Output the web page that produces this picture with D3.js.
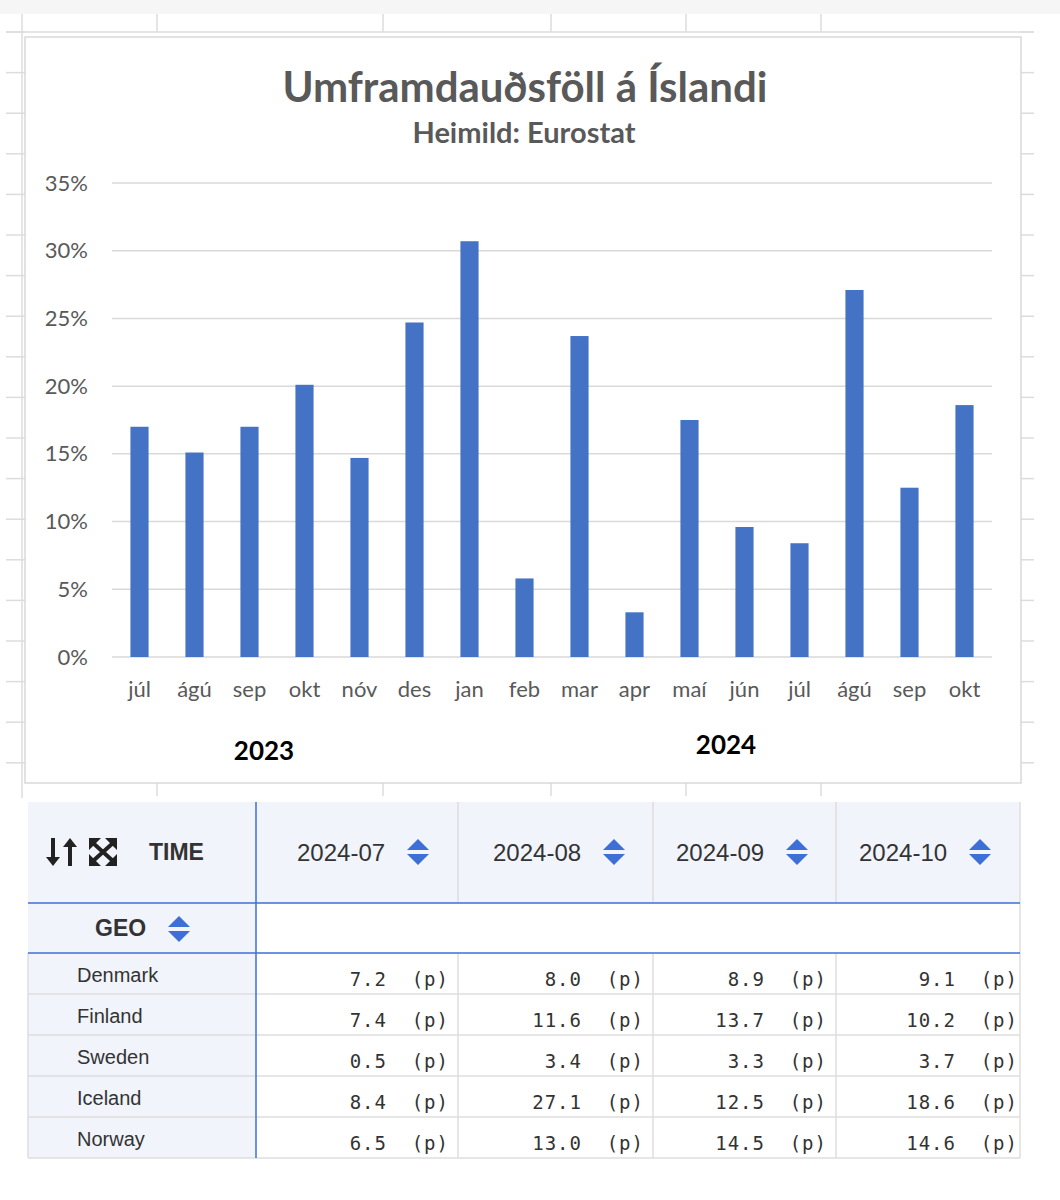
<!DOCTYPE html>
<html>
<head>
<meta charset="utf-8">
<script src="https://cdn.jsdelivr.net/npm/d3@7"></script>
<style>
  body { margin: 0; background: #fff; }
  svg text { font-family: Lato, "Open Sans", sans-serif; }
  .tbl text { font-family: "Liberation Sans", Arial, sans-serif; fill: #333; }
  .tbl text.num { font-family: "DejaVu Sans Mono", monospace; }
</style>
</head>
<body>
<div id="chart"></div>
<script>
// Chart data: excess mortality in Iceland, per month (percent)
const months = ['júl', 'ágú', 'sep', 'okt', 'nóv', 'des', 'jan', 'feb', 'mar', 'apr', 'maí', 'jún', 'júl', 'ágú', 'sep', 'okt'];
const excess = [17.0, 15.1, 17.0, 20.1, 14.7, 24.7, 30.7, 5.8, 23.7, 3.3, 17.5, 9.6, 8.4, 27.1, 12.5, 18.6];
const years = ['2023', '2024'];
const yTicks = [0, 5, 10, 15, 20, 25, 30, 35];

// Eurostat table below the chart
const periods = ['2024-07', '2024-08', '2024-09', '2024-10'];
const countries = ['Denmark', 'Finland', 'Sweden', 'Iceland', 'Norway'];
const denmark = [7.2, 8.0, 8.9, 9.1];
const finland = [7.4, 11.6, 13.7, 10.2];
const sweden = [0.5, 3.4, 3.3, 3.7];
const iceland = [8.4, 27.1, 12.5, 18.6];
const norway = [6.5, 13.0, 14.5, 14.6];
const tableRows = [denmark, finland, sweden, iceland, norway];

const width = 1060, height = 1200;
const svg = d3.select('#chart').append('svg')
    .attr('width', width)
    .attr('height', height);

// Spreadsheet grid in the background
svg.append('rect').attr('x', 0).attr('y', 0).attr('width', width).attr('height', 14).attr('fill', '#f6f6f6');
const grid = svg.append('g').attr('stroke', '#dcdcdc').attr('stroke-width', 1.5);
d3.range(32, 800, 40.6).forEach(y => {
    grid.append('line').attr('x1', 6).attr('x2', 25).attr('y1', y).attr('y2', y);
    grid.append('line').attr('x1', 1021).attr('x2', 1034).attr('y1', y).attr('y2', y);
});
grid.append('line').attr('x1', 6).attr('x2', 1034).attr('y1', 32).attr('y2', 32);
grid.append('line').attr('x1', 22).attr('x2', 22).attr('y1', 14).attr('y2', 798);
[157, 383, 551, 686, 821].forEach(x => {
    grid.append('line').attr('x1', x).attr('x2', x).attr('y1', 14).attr('y2', 32);
    grid.append('line').attr('x1', x).attr('x2', x).attr('y1', 783).attr('y2', 796);
});

// Chart box
svg.append('rect')
    .attr('x', 25).attr('y', 37).attr('width', 996).attr('height', 746)
    .attr('fill', '#fff').attr('stroke', '#d9d9d9').attr('stroke-width', 1.5);

// Title
svg.append('text').attr('x', 525).attr('y', 102)
    .attr('text-anchor', 'middle').attr('fill', '#595959')
    .style('font-size', '42px').style('font-weight', 'bold')
    .text('Umframdauðsföll á Íslandi');
svg.append('text').attr('x', 524).attr('y', 143)
    .attr('text-anchor', 'middle').attr('fill', '#595959')
    .style('font-size', '29px').style('font-weight', 'bold')
    .text('Heimild: Eurostat');

// Scales
const x = d3.scaleBand()
    .domain(d3.range(months.length))
    .range([112, 992])
    .paddingInner(0.67)
    .paddingOuter(0.335);
const y = d3.scaleLinear().domain([0, 35]).range([657, 183]);

// Gridlines
svg.append('g').selectAll('line')
    .data(yTicks)
    .join('line')
    .attr('x1', 112).attr('x2', 992)
    .attr('y1', d => y(d)).attr('y2', d => y(d))
    .attr('stroke', '#d9d9d9').attr('stroke-width', 1.5);

// Y axis labels
const yAxis = svg.append('g')
    .attr('transform', 'translate(96,0)')
    .call(d3.axisLeft(y).tickValues(yTicks).tickSize(0).tickPadding(8).tickFormat(d => d + '%'));
yAxis.select('.domain').remove();
yAxis.selectAll('text').attr('fill', '#595959').style('font-size', '22px').style('font-family', 'Lato, sans-serif');

// Bars
svg.append('g').selectAll('rect')
    .data(excess)
    .join('rect')
    .attr('x', (d, i) => x(i))
    .attr('y', d => y(d))
    .attr('width', x.bandwidth())
    .attr('height', d => y(0) - y(d))
    .attr('fill', '#4472c4');

// X axis labels
const xAxis = svg.append('g')
    .attr('transform', `translate(0,${y(0)})`)
    .call(d3.axisBottom(x).tickSize(0).tickPadding(24).tickFormat(i => months[i]));
xAxis.select('.domain').remove();
xAxis.selectAll('text').attr('fill', '#595959').style('font-size', '22px').style('font-family', 'Lato, sans-serif');

// Year labels
svg.append('text').attr('x', 264).attr('y', 760).attr('text-anchor', 'middle')
    .attr('fill', '#000').style('font-size', '26px').style('font-weight', 'bold').text(years[0]);
svg.append('text').attr('x', 726).attr('y', 754).attr('text-anchor', 'middle')
    .attr('fill', '#000').style('font-size', '26px').style('font-weight', 'bold').text(years[1]);

///// Table /////
const tbl = svg.append('g').attr('class', 'tbl');
const colEdges = [28, 256, 458, 653, 836, 1020];
const headPad = [41, 35, 23, 23];
const cellShift = [0, 0, 0, 7];
const headTop = 802, headBot = 903, geoBot = 953, rowH = 41;
const rowY = d3.scaleBand().domain(d3.range(countries.length)).range([geoBot, geoBot + rowH * countries.length]);
const tblBottom = geoBot + rowH * countries.length;
const blue = '#3d6fd6';

// Backgrounds
tbl.append('rect').attr('x', 28).attr('y', headTop).attr('width', 992).attr('height', headBot - headTop).attr('fill', '#f1f4fb');
tbl.append('rect').attr('x', 28).attr('y', headBot).attr('width', 228).attr('height', geoBot - headBot).attr('fill', '#f1f4fb');
tbl.append('rect').attr('x', 28).attr('y', geoBot).attr('width', 228).attr('height', tblBottom - geoBot).attr('fill', '#f1f4fb');

// Gray cell borders
const gl = tbl.append('g').attr('stroke', '#dedede').attr('stroke-width', 1.5);
[458, 653, 836].forEach(cx => {
    gl.append('line').attr('x1', cx).attr('x2', cx).attr('y1', headTop).attr('y2', headBot);
    gl.append('line').attr('x1', cx).attr('x2', cx).attr('y1', geoBot).attr('y2', tblBottom);
});
gl.append('line').attr('x1', 1020).attr('x2', 1020).attr('y1', headTop).attr('y2', tblBottom);
gl.append('line').attr('x1', 28).attr('x2', 28).attr('y1', geoBot).attr('y2', tblBottom);
countries.forEach((c, i) => {
    gl.append('line').attr('x1', 28).attr('x2', 1020)
        .attr('y1', rowY(i) + rowH).attr('y2', rowY(i) + rowH);
});

// Blue separators
tbl.append('line').attr('x1', 28).attr('x2', 1020).attr('y1', headBot).attr('y2', headBot).attr('stroke', blue).attr('stroke-width', 1.5);
tbl.append('line').attr('x1', 28).attr('x2', 1020).attr('y1', geoBot).attr('y2', geoBot).attr('stroke', blue).attr('stroke-width', 1.5);
tbl.append('line').attr('x1', 256).attr('x2', 256).attr('y1', headTop).attr('y2', tblBottom).attr('stroke', blue).attr('stroke-width', 1.5);

// Sort icon: blue up and down triangles
function sortIcon(cx, cy) {
    tbl.append('path').attr('d', `M${cx - 11},${cy - 2} L${cx},${cy - 13} L${cx + 11},${cy - 2} Z`).attr('fill', blue);
    tbl.append('path').attr('d', `M${cx - 11},${cy + 2} L${cx},${cy + 13} L${cx + 11},${cy + 2} Z`).attr('fill', blue);
}

// Corner icons: swap arrows and expand
const ic = tbl.append('g').attr('fill', '#222').attr('stroke', '#222');
ic.append('path').attr('d', 'M53,838 L53,860').attr('stroke-width', 4);
ic.append('path').attr('d', 'M46,857 L53,866 L60,857 Z').attr('stroke', 'none');
ic.append('path').attr('d', 'M70,845 L70,866').attr('stroke-width', 4);
ic.append('path').attr('d', 'M63,847 L70,838 L77,847 Z').attr('stroke', 'none');
ic.append('path').attr('d', 'M93,843 L113,861 M113,843 L93,861').attr('stroke-width', 4);
ic.append('path').attr('d', 'M89,838 L101,838 L89,850 Z M117,838 L105,838 L117,850 Z M89,866 L101,866 L89,854 Z M117,866 L105,866 L117,854 Z').attr('stroke', 'none');

tbl.append('text').attr('x', 149).attr('y', 860).style('font-size', '23px').style('font-weight', 'bold').text('TIME');
tbl.append('text').attr('x', 95).attr('y', 936).style('font-size', '23px').style('font-weight', 'bold').text('GEO');
sortIcon(179, 929);

// Period headers
periods.forEach((p, j) => {
    const left = colEdges[j + 1] + headPad[j];
    tbl.append('text').attr('x', left).attr('y', 861)
        .style('font-size', '24px').text(p);
    sortIcon(left + 121, 852);
});

// Country rows
countries.forEach((c, i) => {
    const top = rowY(i);
    tbl.append('text').attr('x', 77).attr('y', top + 29).style('font-size', '20px').text(c);
    tableRows[i].forEach((v, j) => {
        const right = colEdges[j + 2] + cellShift[j];
        tbl.append('text').attr('class', 'num').attr('x', right - 71).attr('y', top + 33)
            .attr('text-anchor', 'end').style('font-size', '19px').style('letter-spacing', '1px')
            .text(v.toFixed(1));
        tbl.append('text').attr('class', 'num').attr('x', right - 9).attr('y', top + 33)
            .attr('text-anchor', 'end').style('font-size', '19px').style('letter-spacing', '1px')
            .text('(p)');
    });
});
</script>
</body>
</html>
